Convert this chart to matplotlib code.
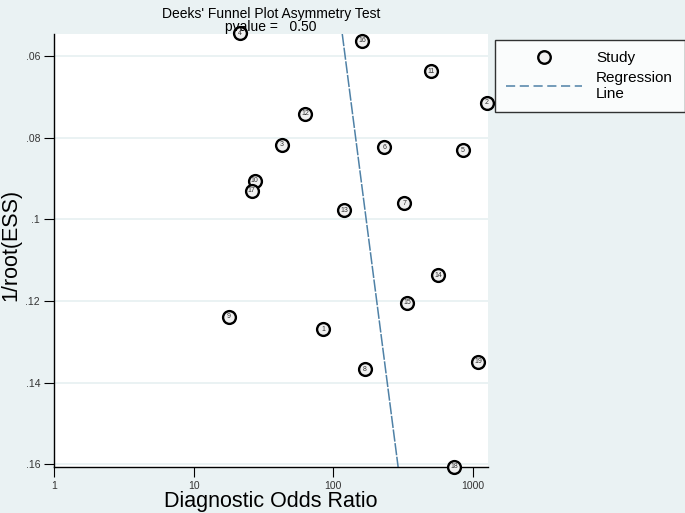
import numpy as np
import matplotlib
matplotlib.use("Agg")
import matplotlib.pyplot as plt
from matplotlib.lines import Line2D

plt.rcParams['font.family'] = ['Liberation Sans', 'DejaVu Sans']

# study data: diagnostic odds ratio and 1/sqrt(ESS)
study_ids = [1, 2, 3, 4, 5, 6, 7, 8, 9, 10, 11, 12, 13, 14, 15, 16, 17, 18, 19]
dor = [85, 1259, 43, 21.3, 848, 231, 321, 169, 17.8, 27.3, 501, 63, 120, 562, 338, 161, 26, 731, 1086]
inv_root_ess = [0.1270, 0.0715, 0.0817, 0.0544, 0.0831, 0.0824, 0.0961, 0.1368, 0.1239, 0.0905,
                0.0637, 0.0742, 0.0978, 0.1137, 0.1205, 0.0563, 0.0930, 0.1607, 0.1349]

# regression line: log10(DOR) = a + b * 1/root(ESS)
reg_intercept = 1.858
reg_slope = 3.77

yticks = [0.06, 0.08, 0.10, 0.12, 0.14, 0.16]
ytick_labels = [".06", ".08", ".1", ".12", ".14", ".16"]
xticks = [1, 10, 100, 1000]
xtick_labels = ["1", "10", "100", "1000"]

bg = "#eaf2f3"
line_col = "#4f81a6"

fig = plt.figure(figsize=(6.85, 5.13), dpi=100, facecolor=bg)
ax = fig.add_axes([0.0788, 0.0897, 0.6336, 0.844])
ax.set_facecolor("white")

ax.set_xscale("log")
ax.set_xlim(1, 1280)
ax.set_ylim(0.1607, 0.0546)

for yt in yticks:
    ax.axhline(yt, color=bg, lw=1.4, zorder=1)

yy = np.array([0.0546, 0.1607])
ax.plot(10 ** (reg_intercept + reg_slope * yy), yy, color=line_col, lw=1.1,
        ls=(0, (8, 1)), zorder=2)

ax.scatter(dor, inv_root_ess, s=85, facecolor="#f0f0f0", edgecolor="black",
           linewidth=1.7, zorder=3, clip_on=False)
for sid, x, y in zip(study_ids, dor, inv_root_ess):
    ax.text(x, y, str(sid), fontsize=5, ha="center", va="center", zorder=4,
            color="#333333")

for s in ["top", "right"]:
    ax.spines[s].set_visible(False)
ax.spines["left"].set_linewidth(1)
ax.spines["bottom"].set_linewidth(1)

ax.set_yticks(yticks)
ax.set_yticklabels(ytick_labels, fontsize=7.5, color="#333333")
ax.set_xticks(xticks)
ax.set_xticklabels(xtick_labels, fontsize=7.5, color="#333333")
ax.xaxis.set_minor_locator(matplotlib.ticker.NullLocator())
ax.tick_params(axis="both", length=7, width=0.8, direction="out", pad=3)

ax.set_xlabel("Diagnostic Odds Ratio", fontsize=15.5, labelpad=0)
ax.set_ylabel("1/root(ESS)", fontsize=15.5)
ax.yaxis.set_label_coords(-0.074, 0.513)
ax.set_title("Deeks' Funnel Plot Asymmetry Test\npvalue =   0.50", fontsize=10,
             pad=1, linespacing=0.95)

handles = [
    Line2D([], [], marker="o", ls="none", markersize=9, markerfacecolor="#f0f0f0",
           markeredgecolor="black", markeredgewidth=1.7, label="Study"),
    Line2D([], [], color=line_col, lw=1.1, ls=(0, (6, 3)), label="Regression\nLine"),
]
leg = fig.legend(handles=handles, loc="upper left", bbox_to_anchor=(0.722, 0.922),
                 fontsize=11, frameon=True, fancybox=False, edgecolor="black",
                 handlelength=5.0, handletextpad=0.9, borderpad=0.75, labelspacing=0.35,
                 borderaxespad=0)
leg.get_frame().set_linewidth(1)

fig.savefig("out.png", dpi=100, facecolor=bg)
